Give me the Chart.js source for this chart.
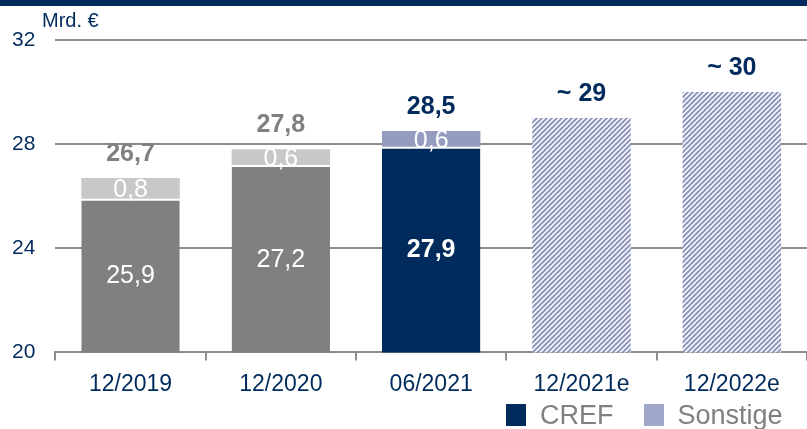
<!DOCTYPE html>
<html>
<head>
<meta charset="utf-8">
<script src="https://cdn.jsdelivr.net/npm/chart.js@4"></script>
<style>
  body { margin: 0; background: #fff; }
  #wrap { position: relative; width: 807px; height: 429px; overflow: hidden; }
  #band { position: absolute; left: 0; top: 0; width: 807px; height: 6px; background: #002b5c; }
  #unit { position: absolute; left: 42px; top: 9px; font: 20px "Liberation Sans", Arial, sans-serif; color: #002b5c; }
  #legend { position: absolute; left: 506px; top: 400px; font: 27px/30px "Liberation Sans", Arial, sans-serif; color: #808080; white-space: nowrap; }
  #legend span.box { display: inline-block; width: 20px; height: 22px; vertical-align: -2px; margin-right: 14px; }
  #legend span.item { margin-right: 30px; }
</style>
</head>
<body>
<div id="wrap">
  <canvas id="myChart" width="807" height="429"></canvas>
  <div id="band"></div>
  <div id="unit">Mrd. €</div>
  <div id="legend"></div>
</div>
<script>
const categories = ['12/2019', '12/2020', '06/2021', '12/2021e', '12/2022e'];
const baseValues = [25.9, 27.2, 27.9, null, null];
const otherValues = [0.8, 0.6, 0.6, null, null];
const forecastValues = [null, null, null, 29, 30];
const totalLabels = ['26,7', '27,8', '28,5', '~ 29', '~ 30'];
const yTicks = [20, 24, 28, 32];
const legendNames = ['CREF', 'Sonstige'];

const NAVY = '#002b5c';
const GREY = '#808080';
const LIGHTGREY = '#c8c8c8';
const LILAC = '#959cc0';
const FONT = '"Liberation Sans", Arial, sans-serif';

// legend as plain html, lined up like the original
const legendColors = [NAVY, '#a0a7c8'];
document.getElementById('legend').innerHTML = legendNames.map((n, i) =>
    `<span class="item"><span class="box" style="background:${legendColors[i]}"></span>${n}</span>`
).join('');

function hatch() {
    const c = document.createElement('canvas');
    const s = 5;
    c.width = s; c.height = s;
    const g = c.getContext('2d');
    g.fillStyle = '#fff';
    g.fillRect(0, 0, s, s);
    g.strokeStyle = '#8f96bd';
    g.lineWidth = 2;
    g.beginPath();
    g.moveTo(0, s); g.lineTo(s, 0);
    g.moveTo(-1, 1); g.lineTo(1, -1);
    g.moveTo(s - 1, s + 1); g.lineTo(s + 1, s - 1);
    g.stroke();
    return g.createPattern(c, 'repeat');
}

function fmt(v) {
    return v.toFixed(1).replace('.', ',');
}

// draws the numbers on and above the bars
const labelPlugin = {
    id: 'labels',
    afterDatasetsDraw(chart) {
        const ctx = chart.ctx;
        const base = chart.getDatasetMeta(0).data;
        const other = chart.getDatasetMeta(1).data;
        const fc = chart.getDatasetMeta(2).data;
        ctx.save();
        ctx.textAlign = 'center';
        ctx.textBaseline = 'middle';
        for (let i = 0; i < categories.length; i++) {
            let top;
            if (baseValues[i] != null) {
                const b = base[i];
                const bottom = chart.scales.y.bottom;
                ctx.fillStyle = '#fff';
                ctx.font = (i === 2 ? 'bold ' : '') + '25px ' + FONT;
                ctx.fillText(fmt(baseValues[i]), b.x, (b.y + bottom) / 2 + 1);
                const o = other[i];
                ctx.font = '25px ' + FONT;
                ctx.fillText(fmt(otherValues[i]), o.x, (o.y + o.base) / 2 + 2);
                top = o.y;
            } else {
                top = fc[i].y;
            }
            ctx.fillStyle = i < 2 ? GREY : NAVY;
            ctx.font = 'bold 25px ' + FONT;
            ctx.fillText(totalLabels[i], base[i].x, top - 24);
        }
        ctx.restore();
    }
};

const ctx = document.getElementById('myChart').getContext('2d');
new Chart(ctx, {
    type: 'bar',
    data: {
        labels: categories,
        datasets: [
            {
                label: 'CREF',
                data: baseValues,
                backgroundColor: [GREY, GREY, NAVY, NAVY, NAVY],
                borderColor: '#fff',
                borderWidth: { top: 2, left: 0, right: 0, bottom: 0 },
                borderSkipped: false,
                barPercentage: 0.655,
                categoryPercentage: 1
            },
            {
                label: 'Sonstige',
                data: otherValues,
                backgroundColor: [LIGHTGREY, LIGHTGREY, LILAC, LILAC, LILAC],
                borderWidth: 0,
                barPercentage: 0.655,
                categoryPercentage: 1
            },
            {
                label: 'Prognose',
                data: forecastValues,
                backgroundColor: hatch(),
                borderWidth: 0,
                barPercentage: 0.655,
                categoryPercentage: 1
            }
        ]
    },
    plugins: [labelPlugin],
    options: {
        responsive: false,
        animation: false,
        layout: { padding: { top: 40, right: -3, left: -8, bottom: 21 } },
        plugins: {
            tooltip: { enabled: false },
            legend: { display: false }
        },
        scales: {
            x: {
                stacked: true,
                grid: {
                    offset: true,
                    drawOnChartArea: false,
                    drawTicks: true,
                    tickLength: 8,
                    color: '#8c8c8c',
                    lineWidth: 2
                },
                border: { color: '#8c8c8c', width: 2 },
                ticks: { color: NAVY, font: { family: FONT, size: 23 }, padding: 10 }
            },
            y: {
                stacked: true,
                min: 20,
                max: 32,
                afterBuildTicks: (axis) => { axis.ticks = yTicks.map(v => ({ value: v })); },
                grid: { color: '#8c8c8c', lineWidth: 2, drawTicks: false },
                border: { display: false },
                ticks: { color: NAVY, font: { family: FONT, size: 21 }, padding: 20 }
            }
        }
    }
});
</script>
</body>
</html>
